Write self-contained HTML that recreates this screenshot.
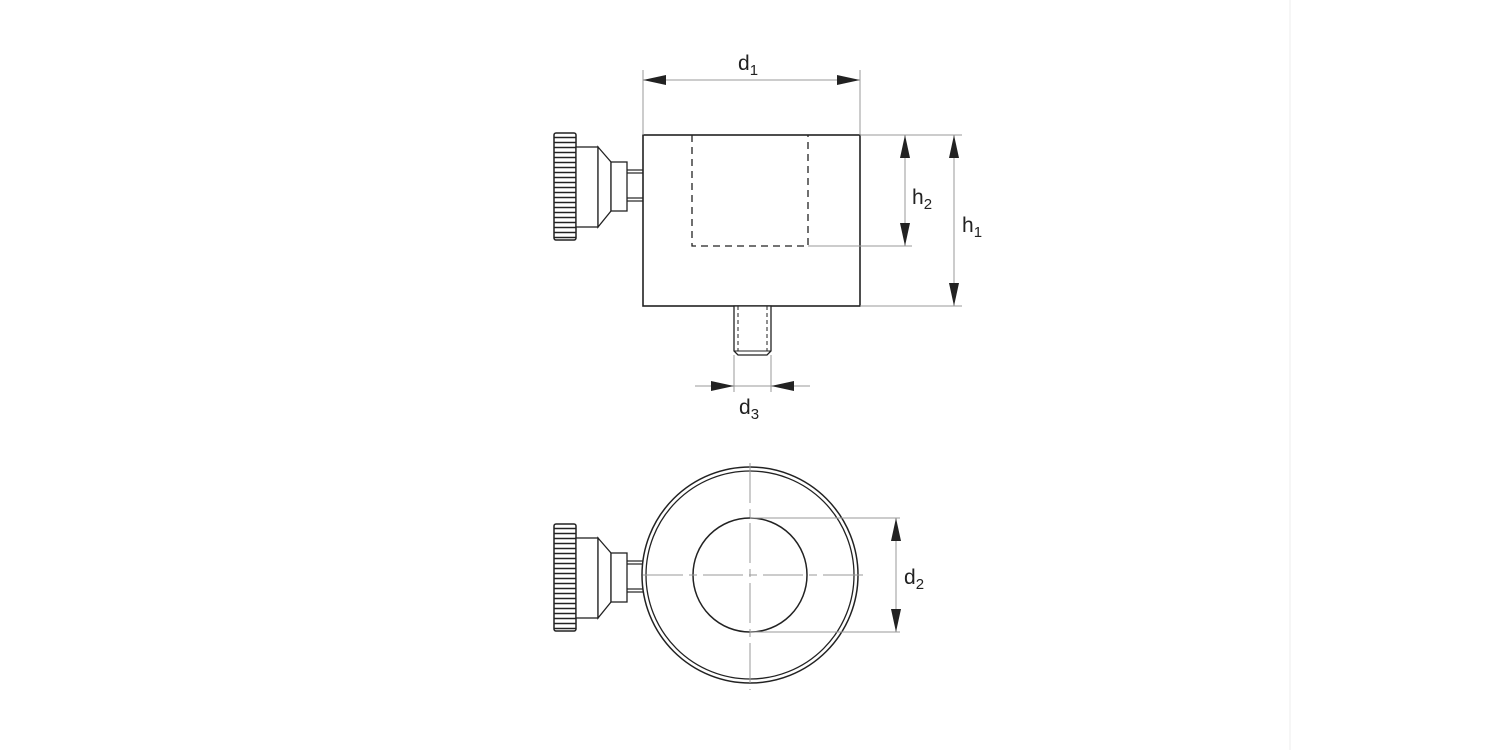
<!DOCTYPE html>
<html><head><style>body{margin:0;background:#fff}svg{display:block}text{font-family:"Liberation Sans",sans-serif;fill:#222}</style></head><body>
<svg width="1500" height="750" viewBox="0 0 1500 750" xmlns="http://www.w3.org/2000/svg">
<defs>
<pattern id="kn" x="0" y="0" width="22" height="5" patternUnits="userSpaceOnUse"><line x1="0" y1="2.5" x2="22" y2="2.5" stroke="#222" stroke-width="1.4"/></pattern>
<g id="knob">
<rect x="554" y="133" width="22" height="107" rx="2" fill="url(#kn)" stroke="#222" stroke-width="1.5"/>
<rect x="576" y="147" width="22" height="80" fill="#fff" stroke="#222" stroke-width="1.3"/>
<polygon points="598,147 611,162 611,211 598,227" fill="#fff" stroke="#222" stroke-width="1.3"/>
<rect x="611" y="162" width="16" height="49" fill="#fff" stroke="#222" stroke-width="1.3"/>
<line x1="627" y1="170" x2="643" y2="170" stroke="#222" stroke-width="1.2"/>
<line x1="627" y1="173" x2="643" y2="173" stroke="#222" stroke-width="1.2"/>
<line x1="627" y1="198" x2="643" y2="198" stroke="#222" stroke-width="1.2"/>
<line x1="627" y1="201" x2="643" y2="201" stroke="#222" stroke-width="1.2"/>
</g>
</defs>
<line x1="1290" y1="0" x2="1290" y2="750" stroke="#eee" stroke-width="1"/>
<use href="#knob"/>
<rect x="643" y="135" width="217" height="171" fill="none" stroke="#222" stroke-width="1.6"/>
<polyline points="692,135 692,246 808,246 808,135" fill="none" stroke="#222" stroke-width="1.3" stroke-dasharray="7,5"/>
<polygon points="734,306 734,351 738,355 767,355 771,351 771,306" fill="#fff" stroke="#222" stroke-width="1.3"/>
<line x1="738" y1="306" x2="738" y2="351" stroke="#222" stroke-width="1" stroke-dasharray="4,3"/>
<line x1="767" y1="306" x2="767" y2="351" stroke="#222" stroke-width="1" stroke-dasharray="4,3"/>
<line x1="734" y1="351" x2="771" y2="351" stroke="#222" stroke-width="1"/>
<g stroke="#999" stroke-width="1" fill="none">
<line x1="643" y1="70" x2="643" y2="135"/><line x1="860" y1="70" x2="860" y2="135"/>
<line x1="643" y1="80" x2="860" y2="80"/>
<line x1="860" y1="135" x2="962" y2="135"/><line x1="860" y1="306" x2="962" y2="306"/>
<line x1="808" y1="246" x2="912" y2="246"/>
<line x1="905" y1="135" x2="905" y2="246"/><line x1="954" y1="135" x2="954" y2="306"/>
<line x1="734" y1="355" x2="734" y2="392"/><line x1="771" y1="355" x2="771" y2="392"/>
<line x1="695" y1="386" x2="810" y2="386"/>
</g>
<g fill="#222">
<polygon points="643,80 666,75 666,85"/><polygon points="860,80 837,75 837,85"/>
<polygon points="905,135 900,158 910,158"/><polygon points="905,246 900,223 910,223"/>
<polygon points="954,135 949,158 959,158"/><polygon points="954,306 949,283 959,283"/>
<polygon points="734,386 711,381 711,391"/><polygon points="771,386 794,381 794,391"/>
</g>
<text x="738" y="70" font-size="21">d<tspan font-size="15" dy="5">1</tspan></text>
<text x="912" y="204" font-size="21">h<tspan font-size="15" dy="5">2</tspan></text>
<text x="962" y="232" font-size="21">h<tspan font-size="15" dy="5">1</tspan></text>
<text x="739" y="414" font-size="21">d<tspan font-size="15" dy="5">3</tspan></text>
<use href="#knob" transform="translate(0,391)"/>
<circle cx="750" cy="575" r="108" fill="none" stroke="#222" stroke-width="1.5"/>
<circle cx="750" cy="575" r="104" fill="none" stroke="#222" stroke-width="1.3"/>
<circle cx="750" cy="575" r="57" fill="none" stroke="#222" stroke-width="1.5"/>
<g stroke="#999" stroke-width="1" fill="none">
<line x1="750" y1="463" x2="750" y2="690" stroke-dasharray="40,6,8,6"/>
<line x1="643" y1="575" x2="865" y2="575" stroke-dasharray="40,6,8,6"/>
<line x1="750" y1="518" x2="900" y2="518"/><line x1="750" y1="632" x2="900" y2="632"/>
<line x1="896" y1="518" x2="896" y2="632"/>
</g>
<g fill="#222">
<polygon points="896,518 891,541 901,541"/><polygon points="896,632 891,609 901,609"/>
</g>
<text x="904" y="584" font-size="21">d<tspan font-size="15" dy="5">2</tspan></text>
</svg>
</body></html>
